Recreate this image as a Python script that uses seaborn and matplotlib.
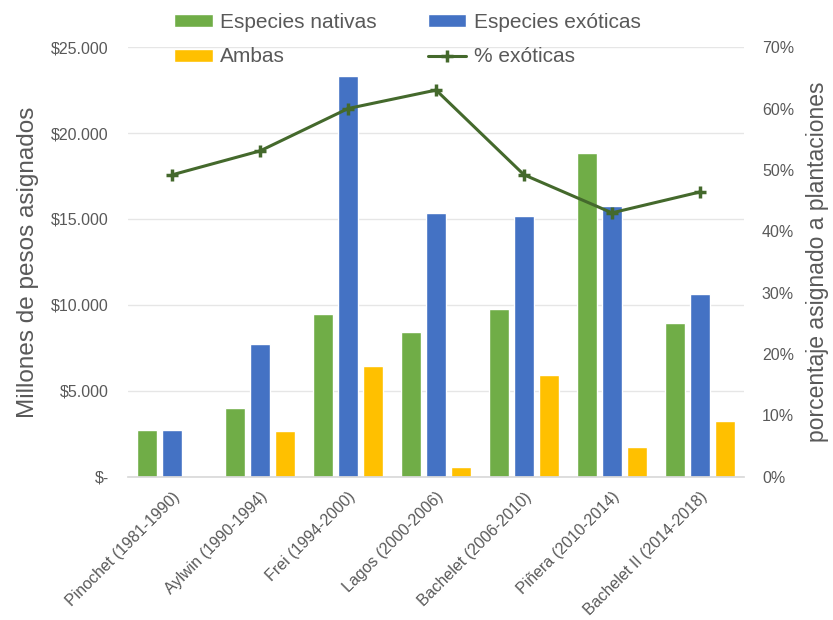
import matplotlib
matplotlib.use("Agg")
import matplotlib.pyplot as plt
import seaborn as sns
import pandas as pd
import numpy as np
from matplotlib.ticker import FuncFormatter
from matplotlib.lines import Line2D
from matplotlib.patches import Patch

categories = ["Pinochet (1981-1990)", "Aylwin (1990-1994)", "Frei (1994-2000)",
              "Lagos (2000-2006)", "Bachelet (2006-2010)", "Piñera (2010-2014)",
              "Bachelet II (2014-2018)"]
nativas = [2750, 4000, 9450, 8450, 9750, 18850, 8950]
exoticas = [2750, 7700, 23300, 15350, 15150, 15750, 10650]
ambas = [0, 2650, 6450, 550, 5950, 1750, 3250]
pct_exoticas = [49.2, 53.1, 60.0, 63.0, 49.2, 43.0, 46.4]
series_names = ["Especies nativas", "Especies exóticas", "Ambas"]
line_name = "% exóticas"
left_ticks = [0, 5000, 10000, 15000, 20000, 25000]
right_ticks = [0, 10, 20, 30, 40, 50, 60, 70]

colors = ["#70AD47", "#4472C4", "#FFC000"]
line_color = "#44692C"
text_color = "#595959"
grid_color = "#E6E6E6"

sns.set_theme(style="white")
plt.rcParams['font.family'] = ['Liberation Sans', 'DejaVu Sans']

df = pd.DataFrame({
    "Periodo": categories * 3,
    "Serie": [series_names[0]] * len(categories) + [series_names[1]] * len(categories) + [series_names[2]] * len(categories),
    "Valor": nativas + exoticas + ambas,
})

fig = plt.figure(figsize=(8.33, 6.2), dpi=100)
ax = fig.add_axes([0.154, 0.231, 0.739, 0.693])
sns.barplot(data=df, x="Periodo", y="Valor", hue="Serie", hue_order=series_names,
            palette=colors, width=0.85, gap=0.2, saturation=1, ax=ax, legend=False)
ax.set_ylim(0, 25000)
ax.set_xlim(-0.5, len(categories) - 0.5)
ax.set_yticks(left_ticks)
ax.yaxis.set_major_formatter(FuncFormatter(lambda v, p: "$-" if v == 0 else "$" + f"{int(v):,}".replace(",", ".")))
ax.grid(axis="y", color=grid_color, lw=1)
ax.set_axisbelow(True)
for s in ["top", "right", "left"]:
    ax.spines[s].set_visible(False)
ax.spines["bottom"].set_color("#D9D9D9")
ax.tick_params(axis="y", length=0, pad=14, labelsize=11.5, labelcolor=text_color)
ax.tick_params(axis="x", length=0, pad=9, labelsize=11.5, labelcolor=text_color)
ax.set_xticks(range(len(categories)))
ax.set_xticklabels(categories, rotation=45, ha="right", rotation_mode="anchor")
ax.set_xlabel("")
ax.set_ylabel("Millones de pesos asignados", fontsize=17.5, color=text_color)
ax.yaxis.set_label_coords((39 - 128) / 615.6, 0.5)

ax2 = ax.twinx()
sns.lineplot(x=list(range(len(categories))), y=pct_exoticas, ax=ax2, color=line_color,
             lw=2.2, marker="+", markersize=8, markeredgewidth=2.5, markeredgecolor=line_color)
ax2.set_ylim(0, 70)
ax2.set_yticks(right_ticks)
ax2.yaxis.set_major_formatter(FuncFormatter(lambda v, p: f"{int(v)}%"))
for s in ["top", "right", "left", "bottom"]:
    ax2.spines[s].set_visible(False)
ax2.tick_params(axis="y", length=0, pad=13, labelsize=11.5, labelcolor=text_color)
ax2.set_ylabel("porcentaje asignado a plantaciones", fontsize=16.5, color=text_color, rotation=90)
ax2.yaxis.set_label_coords((806 - 128) / 615.6, 0.5)

handles = [Patch(facecolor=colors[0]), Patch(facecolor=colors[1]), Patch(facecolor=colors[2]),
           Line2D([0], [0], color=line_color, lw=2.2, marker="+", markersize=8, markeredgewidth=2.5)]
labels = [series_names[0], series_names[1], series_names[2], line_name]
order = [0, 2, 1, 3]
fig.legend([handles[i] for i in order], [labels[i] for i in order], ncol=2, loc="center",
           bbox_to_anchor=(0.489, 0.936), frameon=False, fontsize=15, labelcolor=text_color,
           handlelength=1.85, handleheight=0.6, columnspacing=2.45, labelspacing=0.75, handletextpad=0.35)

fig.savefig("out.png", dpi=100)
